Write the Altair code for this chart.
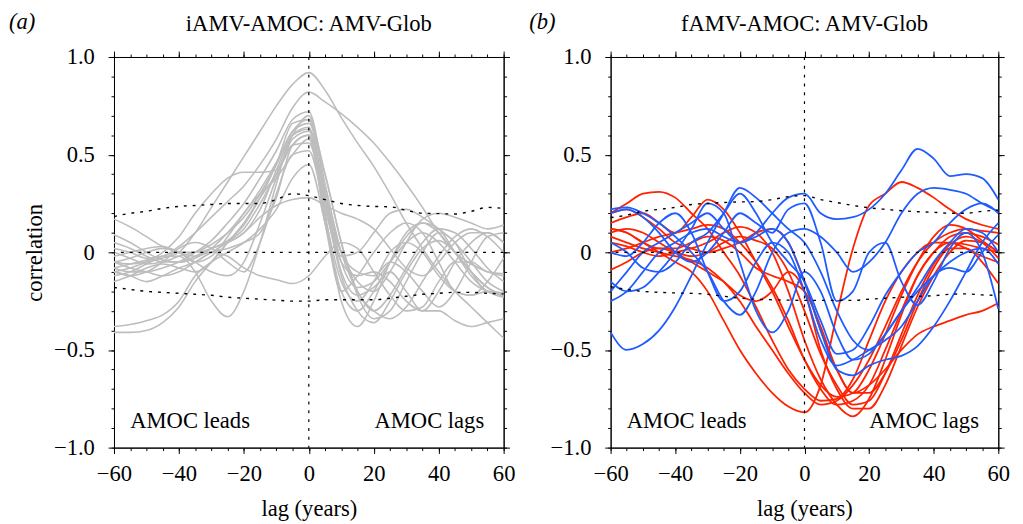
import altair as alt
import pandas as pd

# ---------------- data ----------------
lags = [-60, -55, -50, -45, -40, -35, -30, -25, -20, -15, -10, -5, 0,
        5, 10, 15, 20, 25, 30, 35, 40, 45, 50, 55, 60]

grey_curves = [
    [-0.05, -0.06, -0.05, -0.03, 0.0, 0.1, 0.23, 0.36, 0.49, 0.62, 0.75, 0.86, 0.92, 0.83, 0.69, 0.56, 0.44, 0.30, 0.15, 0.02, -0.10, -0.20, -0.28, -0.36, -0.44],
    [0.02, 0.0, -0.03, -0.02, 0.03, 0.1, 0.18, 0.26, 0.34, 0.45, 0.58, 0.74, 0.82, 0.77, 0.71, 0.64, 0.56, 0.46, 0.35, 0.23, 0.1, 0.0, -0.06, -0.1, -0.12],
    [-0.1, -0.08, -0.05, 0.0, 0.08, 0.2, 0.3, 0.38, 0.41, 0.41, 0.42, 0.6, 0.70, 0.32, -0.05, -0.18, -0.15, -0.05, 0.05, 0.1, 0.05, -0.05, -0.15, -0.2, -0.22],
    [-0.08, -0.1, -0.1, -0.08, -0.05, 0.0, 0.06, 0.15, 0.25, 0.38, 0.52, 0.68, 0.72, 0.35, 0.0, -0.2, -0.3, -0.22, -0.08, 0.05, 0.12, 0.1, 0.02, -0.08, -0.15],
    [-0.12, -0.1, -0.06, -0.02, 0.0, 0.0, 0.02, 0.06, 0.14, 0.28, 0.45, 0.66, 0.68, 0.25, -0.12, -0.3, -0.36, -0.25, -0.1, 0.02, 0.06, 0.0, -0.1, -0.18, -0.22],
    [0.05, 0.02, -0.02, -0.05, -0.05, -0.03, 0.02, 0.1, 0.2, 0.32, 0.46, 0.62, 0.66, 0.4, 0.05, -0.2, -0.3, -0.34, -0.28, -0.15, -0.02, 0.08, 0.12, 0.08, 0.0],
    [-0.05, -0.08, -0.1, -0.12, -0.1, -0.05, 0.0, 0.05, 0.1, 0.22, 0.42, 0.6, 0.64, 0.2, -0.25, -0.38, -0.25, -0.05, 0.1, 0.15, 0.1, 0.0, -0.1, -0.18, -0.23],
    [-0.15, -0.12, -0.08, -0.06, -0.08, -0.1, -0.05, 0.05, 0.15, 0.28, 0.4, 0.55, 0.6, 0.3, 0.0, -0.1, -0.12, -0.05, -0.1, -0.2, -0.28, -0.2, -0.05, 0.08, 0.1],
    [-0.02, 0.0, 0.02, 0.03, 0.0, -0.05, -0.02, 0.08, 0.2, 0.3, 0.38, 0.5, 0.58, 0.18, -0.15, -0.25, -0.15, 0.0, 0.05, 0.0, -0.12, -0.2, -0.22, -0.2, -0.21],
    [-0.1, -0.12, -0.1, -0.05, 0.02, 0.05, 0.02, -0.05, -0.1, 0.05, 0.3, 0.5, 0.52, 0.22, -0.05, -0.12, -0.1, -0.15, -0.25, -0.3, -0.2, -0.05, 0.05, 0.1, 0.05],
    [-0.08, -0.06, -0.04, -0.02, -0.02, -0.1, -0.25, -0.33, -0.2, 0.05, 0.35, 0.6, 0.63, 0.3, -0.02, 0.0, 0.1, 0.2, 0.22, 0.18, 0.12, 0.05, -0.05, -0.15, -0.2],
    [-0.41, -0.41, -0.4, -0.36, -0.28, -0.15, -0.05, 0.05, 0.12, 0.25, 0.4, 0.55, 0.56, 0.25, 0.0, -0.15, -0.2, -0.1, 0.05, 0.17, 0.2, 0.18, 0.15, 0.12, 0.14],
    [-0.38, -0.37, -0.35, -0.32, -0.25, -0.12, -0.05, 0.0, 0.05, 0.12, 0.22, 0.38, 0.45, 0.15, -0.2, -0.3, -0.2, -0.05, 0.08, 0.15, 0.12, 0.0, -0.12, -0.2, -0.23],
    [0.09, 0.05, 0.0, -0.04, -0.05, -0.02, 0.02, 0.05, 0.1, 0.18, 0.24, 0.27, 0.28, 0.24, 0.2, 0.17, 0.12, 0.02, -0.08, -0.12, -0.05, 0.05, 0.1, 0.1, 0.05],
    [0.17, 0.13, 0.08, 0.03, 0.0, -0.02, 0.0, -0.02, -0.08, -0.12, -0.14, -0.16, -0.12, -0.02, 0.05, 0.02, -0.1, -0.22, -0.3, -0.28, -0.15, -0.05, -0.05, -0.1, -0.11],
    [0.0, -0.03, -0.06, -0.05, -0.02, 0.0, 0.04, 0.1, 0.18, 0.3, 0.45, 0.62, 0.68, 0.4, 0.05, -0.22, -0.34, -0.3, -0.15, 0.0, 0.1, 0.05, -0.1, -0.2, -0.21],
    [-0.05, -0.03, 0.0, 0.02, 0.0, -0.05, -0.1, -0.12, -0.05, 0.15, 0.38, 0.58, 0.62, 0.28, -0.1, -0.22, -0.18, -0.1, -0.2, -0.3, -0.3, -0.35, -0.38, -0.36, -0.34],
    [-0.1, -0.12, -0.15, -0.12, -0.08, -0.05, 0.0, 0.02, 0.05, 0.1, 0.28, 0.55, 0.6, 0.15, -0.2, -0.12, 0.0, 0.1, 0.15, 0.1, -0.05, -0.2, -0.22, -0.15, -0.03],
]

red_curves = [
    [0.12, 0.1, 0.05, 0.0, -0.05, -0.1, -0.2, -0.35, -0.5, -0.62, -0.72, -0.79, -0.82, -0.68, -0.32, 0.02, 0.24, 0.3, 0.36, 0.33, 0.28, 0.22, 0.17, 0.14, 0.12],
    [0.2, 0.25, 0.3, 0.31, 0.28, 0.2, 0.12, 0.0, -0.12, -0.28, -0.45, -0.6, -0.7, -0.76, -0.75, -0.65, -0.45, -0.25, -0.1, 0.0, 0.05, 0.05, 0.02, -0.02, -0.05],
    [0.15, 0.18, 0.2, 0.15, 0.1, 0.18, 0.27, 0.22, 0.1, -0.05, -0.2, -0.38, -0.55, -0.68, -0.74, -0.72, -0.6, -0.42, -0.22, -0.05, 0.08, 0.14, 0.12, 0.06, 0.0],
    [0.05, 0.03, 0.0, -0.02, 0.0, 0.02, 0.05, 0.1, 0.13, 0.1, 0.0, -0.2, -0.45, -0.65, -0.78, -0.84, -0.75, -0.55, -0.32, -0.12, 0.0, 0.05, 0.04, 0.02, 0.0],
    [-0.09, -0.05, 0.0, 0.02, 0.0, -0.02, 0.0, 0.05, 0.08, 0.06, 0.02, -0.1, -0.3, -0.52, -0.68, -0.78, -0.76, -0.62, -0.42, -0.22, -0.06, 0.04, 0.08, 0.05, -0.03],
    [0.2, 0.22, 0.18, 0.12, 0.05, 0.02, 0.0, 0.02, 0.05, 0.1, 0.12, 0.05, -0.15, -0.4, -0.6, -0.72, -0.72, -0.62, -0.45, -0.25, -0.08, 0.02, 0.02, -0.05, -0.16],
    [0.1, 0.12, 0.1, 0.05, 0.0, -0.05, -0.1, -0.15, -0.22, -0.25, -0.2, -0.1, -0.2, -0.5, -0.7, -0.8, -0.8, -0.68, -0.48, -0.28, -0.12, 0.0, 0.06, 0.05, 0.0],
    [0.12, 0.1, 0.05, 0.02, 0.02, 0.05, 0.08, 0.06, 0.0, -0.08, -0.12, -0.15, -0.2, -0.38, -0.6, -0.72, -0.68, -0.6, -0.5, -0.42, -0.38, -0.35, -0.32, -0.3, -0.26],
    [0.0, 0.02, 0.05, 0.08, 0.1, 0.12, 0.14, 0.12, 0.05, -0.05, -0.18, -0.35, -0.55, -0.7, -0.78, -0.76, -0.68, -0.5, -0.3, -0.12, 0.0, 0.08, 0.1, 0.08, 0.04],
    [0.08, 0.05, 0.02, 0.0, -0.02, -0.04, -0.08, -0.15, -0.25, -0.38, -0.5, -0.62, -0.72, -0.78, -0.76, -0.68, -0.55, -0.38, -0.2, -0.05, 0.05, 0.1, 0.12, 0.11, 0.1],
]

blue_curves = [
    [-0.41, -0.5, -0.47, -0.4, -0.28, -0.12, 0.05, 0.2, 0.33, 0.28, 0.2, 0.12, 0.05, -0.1, -0.3, -0.45, -0.5, -0.42, -0.3, -0.2, -0.12, -0.05, 0.0, 0.02, -0.06],
    [-0.2, -0.1, 0.0, 0.05, 0.1, 0.15, 0.2, 0.12, 0.05, 0.1, 0.2, 0.28, 0.3, 0.2, 0.17, 0.18, 0.22, 0.3, 0.42, 0.53, 0.48, 0.39, 0.4, 0.38, 0.27],
    [0.22, 0.23, 0.2, 0.15, 0.08, 0.0, -0.1, -0.25, -0.32, -0.2, 0.0, 0.1, 0.12, 0.08, 0.0, -0.1, -0.05, 0.05, 0.2, 0.3, 0.33, 0.32, 0.3, 0.25, 0.21],
    [-0.15, -0.2, -0.18, -0.1, 0.0, 0.12, 0.25, 0.2, -0.05, -0.3, -0.41, -0.3, -0.1, -0.2, -0.42, -0.55, -0.52, -0.42, -0.3, -0.18, -0.05, 0.05, 0.12, 0.1, 0.0],
    [0.05, 0.0, -0.08, -0.1, -0.05, 0.05, 0.1, 0.2, 0.3, 0.2, 0.05, -0.05, -0.15, -0.35, -0.52, -0.5, -0.38, -0.22, -0.1, 0.0, 0.05, 0.15, 0.22, 0.25, 0.2],
    [0.0, -0.02, 0.05, 0.15, 0.2, 0.1, -0.1, -0.25, -0.2, -0.05, 0.05, 0.0, -0.2, -0.45, -0.58, -0.55, -0.5, -0.45, -0.38, -0.25, -0.12, -0.08, -0.1, 0.0, 0.09],
    [0.2, 0.22, 0.18, 0.1, 0.0, -0.05, 0.0, 0.1, 0.2, 0.15, 0.1, 0.22, 0.25, 0.05, -0.25, -0.2, 0.0, 0.05, -0.15, -0.27, -0.15, 0.02, 0.1, 0.0, -0.29],
    [-0.25, -0.2, -0.1, 0.0, 0.05, 0.1, 0.12, 0.08, 0.05, 0.08, 0.12, 0.05, -0.15, -0.4, -0.6, -0.63, -0.58, -0.55, -0.53, -0.48, -0.38, -0.25, -0.1, 0.05, 0.15],
]

sig_a_upper = [0.183, 0.2, 0.21, 0.225, 0.235, 0.24, 0.245, 0.25, 0.25, 0.25, 0.27, 0.3, 0.29, 0.27, 0.25, 0.24, 0.235, 0.233, 0.215, 0.2, 0.198, 0.196, 0.21, 0.23, 0.225]
sig_a_lower = [-0.18, -0.19, -0.2, -0.205, -0.21, -0.215, -0.22, -0.23, -0.235, -0.24, -0.245, -0.25, -0.25, -0.243, -0.243, -0.243, -0.243, -0.235, -0.225, -0.215, -0.21, -0.205, -0.205, -0.21, -0.213]
sig_b_upper = [0.178, 0.19, 0.21, 0.22, 0.23, 0.245, 0.25, 0.255, 0.258, 0.26, 0.27, 0.285, 0.29, 0.27, 0.255, 0.24, 0.228, 0.22, 0.213, 0.208, 0.205, 0.2, 0.2, 0.21, 0.216]
sig_b_lower = [-0.176, -0.19, -0.2, -0.205, -0.208, -0.21, -0.215, -0.225, -0.235, -0.24, -0.243, -0.245, -0.246, -0.246, -0.246, -0.246, -0.24, -0.235, -0.23, -0.226, -0.222, -0.215, -0.213, -0.218, -0.22]

x_major = [-60, -40, -20, 0, 20, 40, 60]
x_minor = [-60, -55, -50, -45, -40, -35, -30, -25, -20, -15, -10, -5, 0,
           5, 10, 15, 20, 25, 30, 35, 40, 45, 50, 55, 60]
y_major = [-1.0, -0.5, 0.0, 0.5, 1.0]
y_minor = [-1.0, -0.9, -0.8, -0.7, -0.6, -0.5, -0.4, -0.3, -0.2, -0.1, 0.0,
           0.1, 0.2, 0.3, 0.4, 0.5, 0.6, 0.7, 0.8, 0.9, 1.0]

panel_titles = ["iAMV-AMOC: AMV-Glob", "fAMV-AMOC: AMV-Glob"]
panel_tags = ["(a)", "(b)"]
lead_text = "AMOC leads"
lag_text = "AMOC lags"
lead_pos = (-55, -0.9)
lag_pos = (54, -0.9)

# ---------------- styling ----------------
FONT = "Liberation Serif"
FS = 23
GREY = "#bdbdbd"
RED = "#ff2200"
BLUE = "#1f5cff"
H = 398


def curves_df(curves, name):
    rows = []
    for i, c in enumerate(curves):
        for lg, v in zip(lags, c):
            rows.append({"lag": lg, "corr": v, "run": f"{name}{i}"})
    return pd.DataFrame(rows)


def sig_df(upper, lower):
    rows = []
    for lg, u, l in zip(lags, upper, lower):
        rows.append({"lag": lg, "corr": u, "bound": "upper"})
        rows.append({"lag": lg, "corr": l, "bound": "lower"})
    return pd.DataFrame(rows)


def ax(orient, values, size, **kw):
    base = dict(orient=orient, values=values, tickSize=size, grid=False,
                domainColor="black", tickColor="black", domainWidth=1, tickWidth=1)
    base.update(kw)
    if "labels" not in kw:
        base["labels"] = False
    if "title" not in kw:
        base["title"] = None
    return alt.Axis(**base)


def make_panel(idx, curve_sets, upper, lower, width, ytitle, tag_dx):
    xs = alt.Scale(domain=[-60, 60], nice=False, zero=False)
    ys = alt.Scale(domain=[-1, 1], nice=False, zero=False)

    x_main = ax("bottom", x_major, 6, labels=True, labelFont=FONT, labelFontSize=FS,
                labelColor="black", labelPadding=9, labelFlush=False, labelOverlap=False,
                title="lag (years)", titleFont=FONT, titleFontSize=FS,
                titleFontWeight="normal", titleColor="black", titlePadding=13)
    ykw = dict(labels=True, labelFont=FONT, labelFontSize=FS, labelColor="black",
               labelPadding=14, labelOverlap=False,
               labelExpr="datum.value == 0 ? '0' : format(datum.value, '.1f')")
    if ytitle:
        ykw.update(title=ytitle, titleFont=FONT, titleFontSize=FS,
                   titleFontWeight="normal", titleColor="black", titlePadding=7)
    y_main = ax("left", y_major, 6, **ykw)

    layers = []
    for j, (curves, color, sw) in enumerate(curve_sets):
        df = curves_df(curves, f"c{j}_")
        if j == 0:
            enc_x = alt.X("lag:Q", scale=xs, axis=x_main)
            enc_y = alt.Y("corr:Q", scale=ys, axis=y_main)
        else:
            enc_x = alt.X("lag:Q", scale=xs, axis=None)
            enc_y = alt.Y("corr:Q", scale=ys, axis=None)
        layers.append(
            alt.Chart(df).mark_line(color=color, strokeWidth=sw, interpolate="monotone")
            .encode(x=enc_x, y=enc_y, detail="run:N")
        )

    # significance levels (dotted)
    layers.append(
        alt.Chart(sig_df(upper, lower)).mark_line(color="black", strokeWidth=1.4,
                                                  strokeDash=[3, 6], interpolate="monotone")
        .encode(x=alt.X("lag:Q", scale=xs, axis=ax("bottom", x_minor, 3)),
                y=alt.Y("corr:Q", scale=ys, axis=ax("left", y_minor, 3)),
                detail="bound:N")
    )
    zero = pd.DataFrame({"v": [0]})
    layers.append(
        alt.Chart(zero).mark_rule(color="black", strokeWidth=1.2, strokeDash=[3, 6])
        .encode(y=alt.Y("v:Q", scale=ys, axis=ax("right", y_major, 6)))
    )
    layers.append(
        alt.Chart(zero).mark_rule(color="black", strokeWidth=1.2, strokeDash=[3, 6])
        .encode(x=alt.X("v:Q", scale=xs, axis=ax("top", x_major, 6)))
    )
    # annotations
    lead_df = pd.DataFrame({"lag": [lead_pos[0]], "corr": [lead_pos[1]], "t": [lead_text]})
    lag_df = pd.DataFrame({"lag": [lag_pos[0]], "corr": [lag_pos[1]], "t": [lag_text]})
    layers.append(
        alt.Chart(lead_df).mark_text(font=FONT, fontSize=FS, align="left",
                                     baseline="alphabetic", color="black")
        .encode(x=alt.X("lag:Q", scale=xs, axis=ax("top", x_minor, 3)),
                y=alt.Y("corr:Q", scale=ys, axis=ax("right", y_minor, 3)),
                text="t:N")
    )
    layers.append(
        alt.Chart(lag_df).mark_text(font=FONT, fontSize=FS, align="right",
                                    baseline="alphabetic", color="black")
        .encode(x=alt.X("lag:Q", scale=xs, axis=None),
                y=alt.Y("corr:Q", scale=ys, axis=None),
                text="t:N")
    )
    title_df = pd.DataFrame({"t": [panel_titles[idx]]})
    layers.append(
        alt.Chart(title_df).mark_text(font=FONT, fontSize=FS, align="center",
                                      baseline="alphabetic", color="black")
        .encode(x=alt.value(width / 2), y=alt.value(-26), text="t:N")
    )
    tag_df = pd.DataFrame({"t": [panel_tags[idx]]})
    layers.append(
        alt.Chart(tag_df).mark_text(font=FONT, fontSize=FS, fontStyle="italic",
                                    align="left", baseline="alphabetic", color="black")
        .encode(x=alt.value(tag_dx), y=alt.value(-29), text="t:N")
    )

    return (alt.layer(*layers)
            .resolve_axis(x="independent", y="independent")
            .properties(width=width, height=H))


panel_a = make_panel(0, [(grey_curves, GREY, 1.6)], sig_a_upper, sig_a_lower,
                     397, "correlation", -107)
panel_b = make_panel(1, [(red_curves, RED, 1.8), (blue_curves, BLUE, 1.8)],
                     sig_b_upper, sig_b_lower, 395, None, -83)

chart = (alt.hconcat(panel_a, panel_b, spacing=109, bounds="flush")
         .properties(padding={"left": 1, "top": -2, "right": 5, "bottom": 5})
         .configure_view(strokeWidth=0))

chart.save("out.html", embed_options={"renderer": "svg", "actions": False})
